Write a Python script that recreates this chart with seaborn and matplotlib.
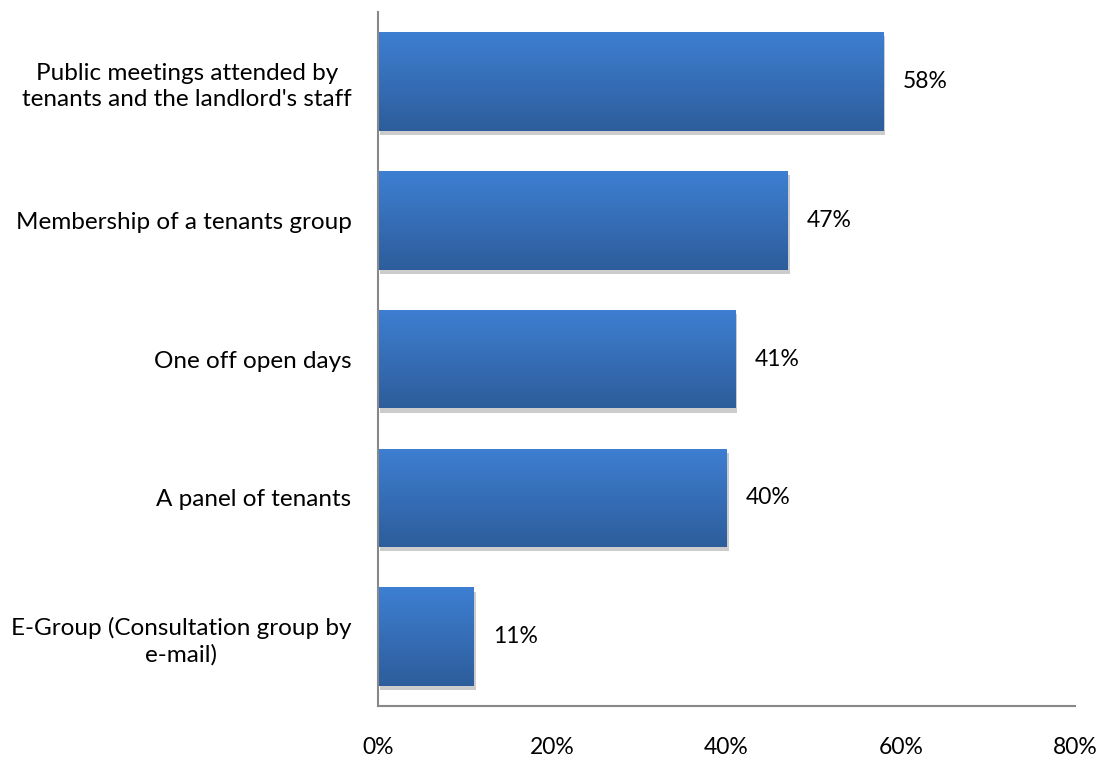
import numpy as np
import pandas as pd
import matplotlib
matplotlib.use("Agg")
import matplotlib.pyplot as plt
import matplotlib.patheffects as pe
from matplotlib.colors import LinearSegmentedColormap
import seaborn as sns

categories = [
    "Public meetings attended by\ntenants and the landlord's staff",
    "Membership of a tenants group",
    "One off open days",
    "A panel of tenants",
    "E-Group (Consultation group by\ne-mail)",
]
values = [58, 47, 41, 40, 11]
tick_values = [0, 20, 40, 60, 80]
tick_labels = ["0%", "20%", "40%", "60%", "80%"]

df = pd.DataFrame({"category": categories, "value": values})

sns.set_theme(style="white")
plt.rcParams["font.family"] = ["Lato", "DejaVu Sans"]

fig = plt.figure(figsize=(11.03, 7.6), dpi=100)
ax = fig.add_axes([0.3427, 0.071, 0.6319, 0.913])

sns.barplot(data=df, x="value", y="category", orient="h", color="#3a78c6",
            width=0.71, ax=ax, saturation=1)

# vertical blue gradient fill with a soft drop shadow on each bar
grad = LinearSegmentedColormap.from_list("bar", ["#3e7fd2", "#2d5d9b"])
gradient = np.linspace(0, 1, 256).reshape(-1, 1)
for patch in ax.patches:
    x0, y0 = patch.get_x(), patch.get_y()
    w, h = patch.get_width(), patch.get_height()
    patch.set_facecolor("none")
    patch.set_edgecolor("none")
    shadow = plt.Rectangle((x0, y0), w, h, facecolor="#3a78c6", edgecolor="none",
                           zorder=1.5)
    shadow.set_path_effects([pe.SimplePatchShadow(offset=(1.5, -3), shadow_rgbFace="#000000",
                                                  alpha=0.2), pe.Normal()])
    ax.add_patch(shadow)
    im = ax.imshow(gradient, cmap=grad, aspect="auto",
                   extent=(x0, x0 + w, y0 + h, y0), zorder=2)
    im.set_clip_path(plt.Rectangle((x0, y0), w, h, transform=ax.transData))

ax.set_xlim(0, 80)
ax.set_ylim(len(categories) - 0.5, -0.5)

for i, v in enumerate(values):
    ax.text(v + 2.2, i, f"{v}%", va="center", ha="left", fontsize=16.5, color="#000000")

ax.set_xticks(tick_values)
ax.set_xticklabels(tick_labels, fontsize=16.5, color="#000000")
ax.tick_params(axis="x", length=0, pad=22)
ax.tick_params(axis="y", length=0, pad=19, labelsize=17.5, labelcolor="#000000")
for lbl in ax.get_yticklabels():
    lbl.set_horizontalalignment("right")
    lbl.set_multialignment("center")
    lbl.set_linespacing(1.3)

ax.set_xlabel("")
ax.set_ylabel("")
for side in ["top", "right"]:
    ax.spines[side].set_visible(False)
for side in ["left", "bottom"]:
    ax.spines[side].set_color("#888888")
    ax.spines[side].set_linewidth(1.5)

fig.savefig("out.png", dpi=100, facecolor="white")
